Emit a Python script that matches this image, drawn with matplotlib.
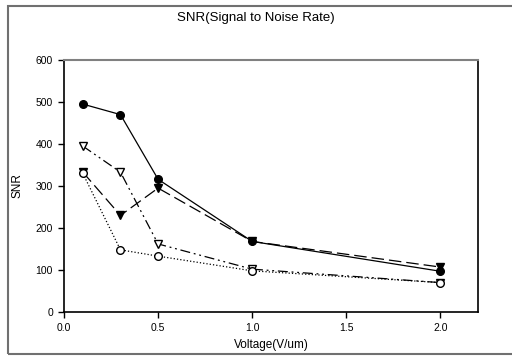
import matplotlib.pyplot as plt
from matplotlib.patches import Rectangle

# 数据
voltage = [0.1, 0.3, 0.5, 1.0, 2.0]
snr_a = [495, 470, 316, 168, 97]    # 实线, 实心圆
snr_b = [333, 230, 295, 168, 107]   # 长虚线, 实心倒三角
snr_c = [395, 333, 162, 102, 70]    # 点划线, 空心倒三角
snr_d = [330, 148, 133, 98, 70]     # 点线, 空心圆

plt.rcParams['font.family'] = ['Liberation Sans', 'DejaVu Sans']

fig = plt.figure(figsize=(5.12, 3.56), dpi=100)
ax = fig.add_axes([64 / 512, 1 - 312 / 356, (478 - 64) / 512, (312 - 60) / 356])

# 外框
fig.patches.append(Rectangle((8 / 512, 1 - 354 / 356), 1.0, (354 - 6) / 356,
                             transform=fig.transFigure, fill=False,
                             edgecolor='#707070', linewidth=1.5))

ms = 5.5
ax.plot(voltage, snr_a, '-', color='black', lw=0.9, marker='o', ms=ms,
        mfc='black', mec='black')
ax.plot(voltage, snr_b, color='black', lw=0.9, dashes=(10, 4), marker='v',
        ms=ms, mfc='black', mec='black')
ax.plot(voltage, snr_c, color='black', lw=0.9, dashes=(8, 3, 1.5, 3, 1.5, 3),
        marker='v', ms=ms, mfc='white', mec='black')
ax.plot(voltage, snr_d, color='black', lw=0.9, linestyle=':', marker='o',
        ms=ms, mfc='white', mec='black')

ax.set_xlim(0, 2.2)
ax.set_ylim(0, 600)
ax.set_xticks([0.0, 0.5, 1.0, 1.5, 2.0])
ax.set_xticklabels(['0.0', '0.5', '1.0', '1.5', '2.0'])
ax.set_yticks([0, 100, 200, 300, 400, 500, 600])

ax.spines['top'].set_color('#808080')
ax.spines['top'].set_linewidth(1.5)
for s in ['left', 'bottom', 'right']:
    ax.spines[s].set_color('black')
    ax.spines[s].set_linewidth(1.2)
ax.tick_params(direction='out', length=4, width=1, labelsize=7.5, colors='black',
               pad=4)

ax.set_xlabel('Voltage(V/um)', fontsize=8.5, labelpad=4)
ax.set_ylabel('SNR', fontsize=8.5, labelpad=9)
fig.text(0.5, 1 - 18 / 356, 'SNR(Signal to Noise Rate)', ha='center', va='center',
         fontsize=9.5)

fig.savefig('out.png', dpi=100)
